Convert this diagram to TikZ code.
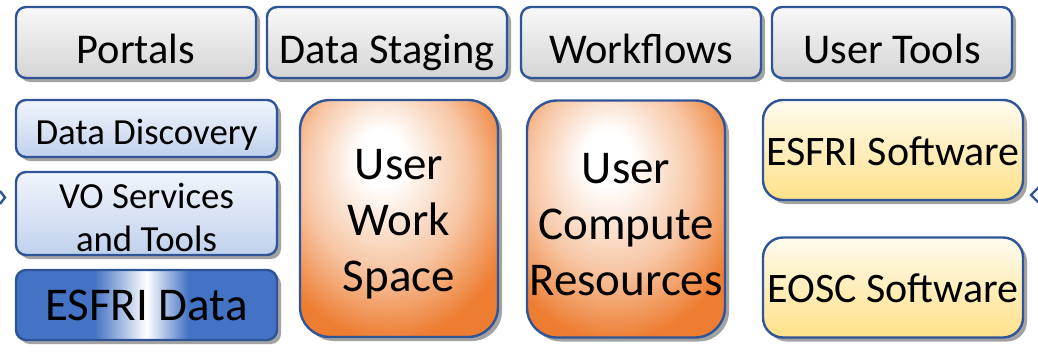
\documentclass[tikz,border=0pt]{standalone}
\usepackage{fontspec}
\setmainfont{Carlito}
\usetikzlibrary{shadows}

\definecolor{edgeblue}{HTML}{2F5597}
\definecolor{orng}{HTML}{ED7D31}
\definecolor{dblue}{HTML}{4472C4}
\definecolor{lgray}{HTML}{F8F8F8}
\definecolor{mgray}{HTML}{D5D5D5}
\definecolor{paleblue}{HTML}{F1F5FB}
\definecolor{lblue}{HTML}{C0D1ED}
\definecolor{cream}{HTML}{FFFBEF}
\definecolor{gold}{HTML}{FFE189}

\pgfdeclarehorizontalshading{esfridata}{100bp}{color(0bp)=(dblue); color(40bp)=(dblue); color(50bp)=(white); color(58bp)=(dblue); color(100bp)=(dblue)}
\pgfdeclareradialshading{glow}{\pgfpoint{-5bp}{14bp}}{color(0bp)=(white); color(6bp)=(white); color(21bp)=(orng!45!white); color(33bp)=(orng); color(70bp)=(orng)}

\tikzset{
  box/.style={draw=edgeblue, line width=1.2pt, rounded corners=5pt, inner sep=0pt,
    drop shadow={shadow xshift=2pt, shadow yshift=-2pt, fill=black!45, opacity=0.8}},
  toolbox/.style={box, top color=lgray, bottom color=mgray, minimum width=120pt, minimum height=35.5pt,
    font=\fontsize{21.2}{25}\selectfont, text height=25.5pt, text depth=5pt},
  databox/.style={box, top color=paleblue, bottom color=lblue, minimum width=130.5pt,
    font=\fontsize{18.4}{21.5}\selectfont},
  userbox/.style={box, rounded corners=15pt, shading=glow, minimum width=99pt, minimum height=118.5pt,
    align=center, font=\fontsize{23.5}{28}\selectfont},
  softbox/.style={box, rounded corners=10pt, top color=cream, bottom color=gold, minimum width=130pt,
    minimum height=50pt, font=\fontsize{21}{25}\selectfont, text height=20pt, text depth=5pt}
}

\begin{document}
\begin{tikzpicture}[x=0.5pt,y=-0.5pt]
	\useasboundingbox (0,0) rectangle (1038,354);

	% top row
	\node[toolbox] (portals) at (136,42.5) {Portals};
	\node[toolbox] (staging) at (387,42.5) {Data Staging};
	\node[toolbox] (workflows) at (641,42.5) {Workflows};
	\node[toolbox] (usertools) at (892,42.5) {User Tools};

	% data column
	\node[databox, minimum height=28.5pt, text height=20.5pt, text depth=5pt] (discovery) at (146.5,128.5) {Data Discovery};
	\node[databox, minimum height=41.5pt, align=center] (vo) at (146.5,213.5) {\rule{0pt}{17pt}VO Services\\and Tools};
	\node[box, shading=esfridata, minimum width=130.5pt, minimum height=35pt, text height=20pt, text depth=5pt,
	  font=\fontsize{23.5}{28}\selectfont] (esfridata) at (146.5,305) {ESFRI Data};

	% user resources
	\node[userbox] (workspace) at (399,218.5) {\rule{0pt}{21pt}User\\Work\\Space};
	\node[userbox] (compute) at (626,219) {\rule{0pt}{21pt}User\\Compute\\Resources};

	% software
	\node[softbox] (esfrisw) at (893,150) {ESFRI Software};
	\node[softbox] (eoscsw) at (893,287.5) {EOSC Software};

	% cut-off marks at the edges
	\draw[edgeblue, line width=1.2pt] (0,191) -- (5,197.5) -- (0,204);
	\draw[edgeblue, line width=1.2pt] (1039,187) -- (1031,195) -- (1039,203);
\end{tikzpicture}
\end{document}
